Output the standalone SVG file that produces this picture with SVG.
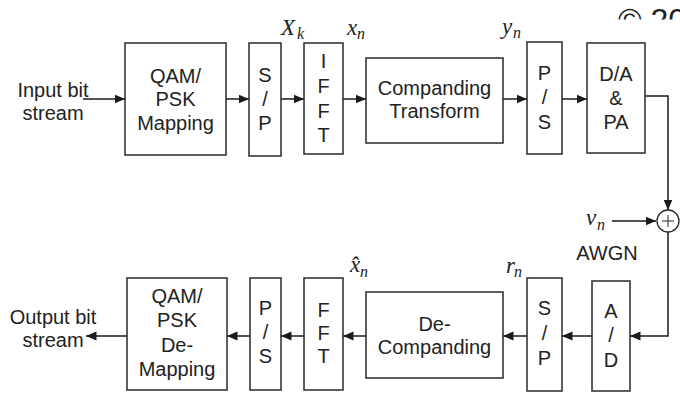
<svg xmlns="http://www.w3.org/2000/svg" width="680" height="394" viewBox="0 0 680 394">
  <defs>
    <marker id="arrow" markerUnits="userSpaceOnUse" markerWidth="11" markerHeight="10" refX="10.5" refY="5" orient="auto">
      <path d="M0,0.5 L10.5,5 L0,9.5 z" fill="#1a1a1a"/>
    </marker>
    <clipPath id="topClip">
      <rect x="0" y="0" width="680" height="19.5"/>
    </clipPath>
  </defs>
  <style>
    .box { fill: #fff; stroke: #2a2a2a; stroke-width: 1.5; }
    .lbl { font-family: "Liberation Sans", Arial, sans-serif; font-size: 20px; fill: #222; text-anchor: middle; }
    .math { font-family: "Liberation Serif", "Times New Roman", serif; font-style: italic; font-size: 23px; fill: #222; }
    .sub { font-family: "Liberation Serif", "Times New Roman", serif; font-style: italic; font-size: 16px; fill: #222; }
    .wire { fill: none; stroke: #1a1a1a; stroke-width: 1.5; }
    .arr { marker-end: url(#arrow); }
  </style>

  <rect width="680" height="394" fill="#fff"/>

  <!-- copyright notice running off the top-right edge -->
  <text x="618" y="31" clip-path="url(#topClip)" font-family="Liberation Sans, Arial, sans-serif" font-size="32" fill="#222">© 20</text>

  <!-- signal flow -->
  <g id="connectors">
    <line class="wire arr" x1="83" y1="99" x2="125" y2="99"/>
    <line class="wire arr" x1="226" y1="99" x2="249" y2="99"/>
    <line class="wire arr" x1="281" y1="99" x2="304" y2="99"/>
    <line class="wire arr" x1="343" y1="99" x2="366" y2="99"/>
    <line class="wire arr" x1="503" y1="99" x2="527" y2="99"/>
    <line class="wire arr" x1="562" y1="99" x2="587" y2="99"/>
    <polyline class="wire arr" points="645,96 668,96 668,210"/>
    <line class="wire arr" x1="612" y1="221" x2="656" y2="221"/>
    <polyline class="wire arr" points="668,232 668,336 630,336"/>
    <line class="wire arr" x1="592" y1="336" x2="562" y2="336"/>
    <line class="wire arr" x1="527" y1="336" x2="503" y2="336"/>
    <line class="wire arr" x1="366" y1="336" x2="343" y2="336"/>
    <line class="wire arr" x1="304" y1="336" x2="281" y2="336"/>
    <line class="wire arr" x1="250" y1="336" x2="227" y2="336"/>
    <line class="wire arr" x1="127" y1="336" x2="86" y2="336"/>
  </g>

  <!-- transmitter -->
  <g id="input">
    <text class="lbl" x="53" y="97">Input bit</text>
    <text class="lbl" x="53" y="120">stream</text>
  </g>

  <g id="qam-mapping">
    <rect class="box" x="125" y="43" width="101" height="112"/>
    <text class="lbl" x="175.5" y="83">QAM/</text>
    <text class="lbl" x="175.5" y="106">PSK</text>
    <text class="lbl" x="175.5" y="130">Mapping</text>
  </g>

  <g id="sp-tx">
    <rect class="box" x="249" y="43" width="32" height="113"/>
    <text class="lbl" x="265" y="82">S</text>
    <text class="lbl" x="265" y="106">/</text>
    <text class="lbl" x="265" y="130">P</text>
  </g>

  <g id="ifft">
    <rect class="box" x="304" y="43" width="39" height="111"/>
    <text class="lbl" x="323.5" y="68">I</text>
    <text class="lbl" x="323.5" y="93">F</text>
    <text class="lbl" x="323.5" y="118">F</text>
    <text class="lbl" x="323.5" y="142">T</text>
  </g>

  <g id="companding">
    <rect class="box" x="366" y="58" width="137" height="85"/>
    <text class="lbl" x="434.5" y="95">Companding</text>
    <text class="lbl" x="434.5" y="118">Transform</text>
  </g>

  <g id="ps-tx">
    <rect class="box" x="527" y="42" width="35" height="112"/>
    <text class="lbl" x="544.5" y="80">P</text>
    <text class="lbl" x="544.5" y="104">/</text>
    <text class="lbl" x="544.5" y="129">S</text>
  </g>

  <g id="da-pa">
    <rect class="box" x="587" y="43" width="58" height="110"/>
    <text class="lbl" x="616" y="81">D/A</text>
    <text class="lbl" x="616" y="105">&amp;</text>
    <text class="lbl" x="616" y="129">PA</text>
  </g>

  <!-- signal labels -->
  <g id="label-Xk">
    <text class="math" x="281" y="35">X</text>
    <text class="sub" x="297" y="39">k</text>
  </g>
  <g id="label-xn">
    <text class="math" x="347" y="35">x</text>
    <text class="sub" x="357" y="39">n</text>
  </g>
  <g id="label-yn">
    <text class="math" x="502" y="34">y</text>
    <text class="sub" x="513" y="38">n</text>
  </g>

  <!-- channel -->
  <g id="adder">
    <circle cx="668" cy="221" r="11" fill="#fff" stroke="#2a2a2a" stroke-width="1.3"/>
    <path d="M668,215 V227 M662,221 H674" stroke="#2a2a2a" stroke-width="1"/>
  </g>
  <g id="noise">
    <text class="math" x="586" y="225">v</text>
    <text class="sub" x="597" y="230">n</text>
    <text class="lbl" x="607" y="260">AWGN</text>
  </g>

  <!-- receiver -->
  <g id="ad">
    <rect class="box" x="592" y="281" width="38" height="110"/>
    <text class="lbl" x="611" y="318">A</text>
    <text class="lbl" x="611" y="342">/</text>
    <text class="lbl" x="611" y="367">D</text>
  </g>

  <g id="sp-rx">
    <rect class="box" x="527" y="278" width="35" height="113"/>
    <text class="lbl" x="544.5" y="315">S</text>
    <text class="lbl" x="544.5" y="340">/</text>
    <text class="lbl" x="544.5" y="365">P</text>
  </g>

  <g id="de-companding">
    <rect class="box" x="366" y="292" width="137" height="86"/>
    <text class="lbl" x="434.5" y="331">De-</text>
    <text class="lbl" x="434.5" y="354">Companding</text>
  </g>

  <g id="fft">
    <rect class="box" x="304" y="278" width="39" height="112"/>
    <text class="lbl" x="323.5" y="317">F</text>
    <text class="lbl" x="323.5" y="340">F</text>
    <text class="lbl" x="323.5" y="363">T</text>
  </g>

  <g id="ps-rx">
    <rect class="box" x="250" y="278" width="31" height="112"/>
    <text class="lbl" x="265.5" y="315">P</text>
    <text class="lbl" x="265.5" y="339">/</text>
    <text class="lbl" x="265.5" y="363">S</text>
  </g>

  <g id="qam-demapping">
    <rect class="box" x="127" y="278" width="100" height="112"/>
    <text class="lbl" x="177" y="303">QAM/</text>
    <text class="lbl" x="177" y="327">PSK</text>
    <text class="lbl" x="177" y="352">De-</text>
    <text class="lbl" x="177" y="376">Mapping</text>
  </g>

  <g id="output">
    <text class="lbl" x="53" y="324">Output bit</text>
    <text class="lbl" x="53" y="347">stream</text>
  </g>

  <g id="label-xhat">
    <text class="math" x="350" y="272">x̂</text>
    <text class="sub" x="360" y="277">n</text>
  </g>
  <g id="label-rn">
    <text class="math" x="506" y="273">r</text>
    <text class="sub" x="514" y="277">n</text>
  </g>
</svg>
